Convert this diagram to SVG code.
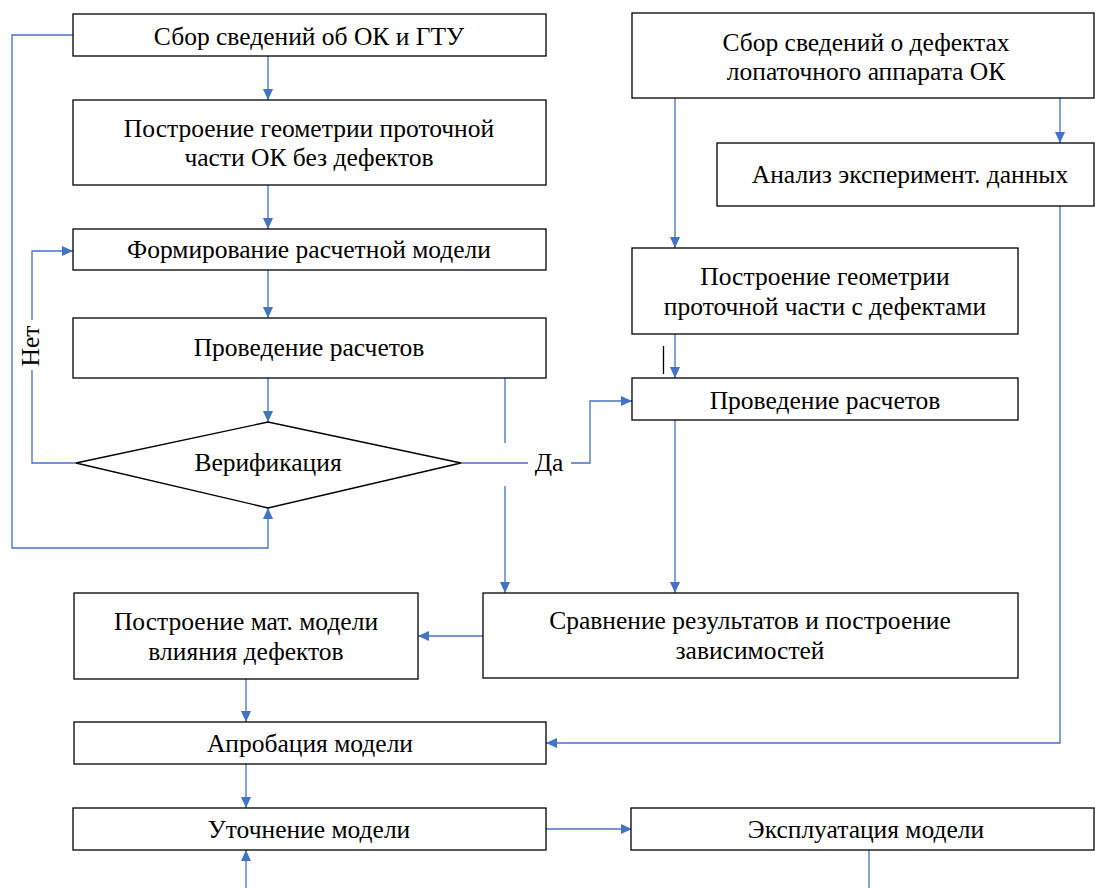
<svg xmlns="http://www.w3.org/2000/svg" width="1095" height="888" viewBox="0 0 1095 888" font-family="Liberation Serif, serif">
<style>
.box{fill:#fff;stroke:#000;stroke-width:1.3}
.t{font-size:25.5px;fill:#000;text-anchor:middle}
.c{fill:none;stroke:#4472C4;stroke-width:1.3}
</style>
<defs>
<marker id="ah" markerWidth="11" markerHeight="12" refX="12" refY="5.5" orient="auto" markerUnits="userSpaceOnUse" viewBox="0 0 12 11">
<path d="M0,0 L12,5.5 L0,11 Z" fill="#4472C4"/>
</marker>
</defs>
<rect width="1095" height="888" fill="#fff"/>
<g id="connectors">
<path class="c" d="M268,56 V100" marker-end="url(#ah)"/>
<path class="c" d="M73,35 H12 V548 H268 V508" marker-end="url(#ah)"/>
<path class="c" d="M268,185 V229" marker-end="url(#ah)"/>
<path class="c" d="M268,270 V318" marker-end="url(#ah)"/>
<path class="c" d="M268,378 V422" marker-end="url(#ah)"/>
<path class="c" d="M76,463 H32 V370"/>
<path class="c" d="M32,320 V251 H73" marker-end="url(#ah)"/>
<path class="c" d="M461,463 H528"/>
<path class="c" d="M571,463 H590 V401 H632" marker-end="url(#ah)"/>
<path class="c" d="M505,378 V443"/>
<path class="c" d="M505,486 V593" marker-end="url(#ah)"/>
<path class="c" d="M675,98 V248" marker-end="url(#ah)"/>
<path class="c" d="M1060,98 V143" marker-end="url(#ah)"/>
<path class="c" d="M1060,206 V743 H546" marker-end="url(#ah)"/>
<path class="c" d="M675,334 V378" marker-end="url(#ah)"/>
<line x1="663.5" y1="346" x2="663.5" y2="374" stroke="#000" stroke-width="1.3"/>
<path class="c" d="M675,420 V593" marker-end="url(#ah)"/>
<path class="c" d="M483,636 H418" marker-end="url(#ah)"/>
<path class="c" d="M246,679 V722" marker-end="url(#ah)"/>
<path class="c" d="M246,764 V808" marker-end="url(#ah)"/>
<path class="c" d="M546,829 H632" marker-end="url(#ah)"/>
<path class="c" d="M246,888 V850" marker-end="url(#ah)"/>
<path class="c" d="M869,850 V888"/>
<text class="t" x="549" y="471">Да</text>
<text class="t" transform="translate(39,346) rotate(-90)">Нет</text>
</g>
<g id="n1"><rect class="box" x="73" y="14" width="473" height="42"/><text class="t" x="309" y="45">Сбор сведений об ОК и ГТУ</text></g>
<g id="n2"><rect class="box" x="73" y="100" width="473" height="85"/><text class="t" x="309" y="137">Построение геометрии проточной</text><text class="t" x="309" y="166">части ОК без дефектов</text></g>
<g id="n3"><rect class="box" x="73" y="229" width="473" height="41"/><text class="t" x="309" y="258">Формирование расчетной модели</text></g>
<g id="n4"><rect class="box" x="73" y="318" width="473" height="60"/><text class="t" x="309" y="356">Проведение расчетов</text></g>
<g id="n5"><polygon class="box" points="76,463 268,422 461,463 268,508"/><text class="t" x="268" y="471">Верификация</text></g>
<g id="n6"><rect class="box" x="632" y="13" width="462" height="85"/><text class="t" x="866" y="51">Сбор сведений о дефектах</text><text class="t" x="866" y="80">лопаточного аппарата ОК</text></g>
<g id="n7"><rect class="box" x="717" y="143" width="377" height="63"/><text class="t" x="910" y="183">Анализ эксперимент. данных</text></g>
<g id="n8"><rect class="box" x="632" y="248" width="386" height="86"/><text class="t" x="825" y="285">Построение геометрии</text><text class="t" x="825" y="315">проточной части с дефектами</text></g>
<g id="n9"><rect class="box" x="632" y="378" width="386" height="42"/><text class="t" x="825" y="409">Проведение расчетов</text></g>
<g id="n10"><rect class="box" x="483" y="593" width="535" height="85"/><text class="t" x="750" y="629">Сравнение результатов и построение</text><text class="t" x="750" y="659">зависимостей</text></g>
<g id="n11"><rect class="box" x="74" y="593" width="344" height="86"/><text class="t" x="246" y="630">Построение мат. модели</text><text class="t" x="246" y="660">влияния дефектов</text></g>
<g id="n12"><rect class="box" x="74" y="722" width="472" height="42"/><text class="t" x="310" y="752">Апробация модели</text></g>
<g id="n13"><rect class="box" x="73" y="808" width="473" height="42"/><text class="t" x="309" y="838">Уточнение модели</text></g>
<g id="n14"><rect class="box" x="631" y="808" width="463" height="42"/><text class="t" x="866" y="838">Эксплуатация модели</text></g>
</svg>
